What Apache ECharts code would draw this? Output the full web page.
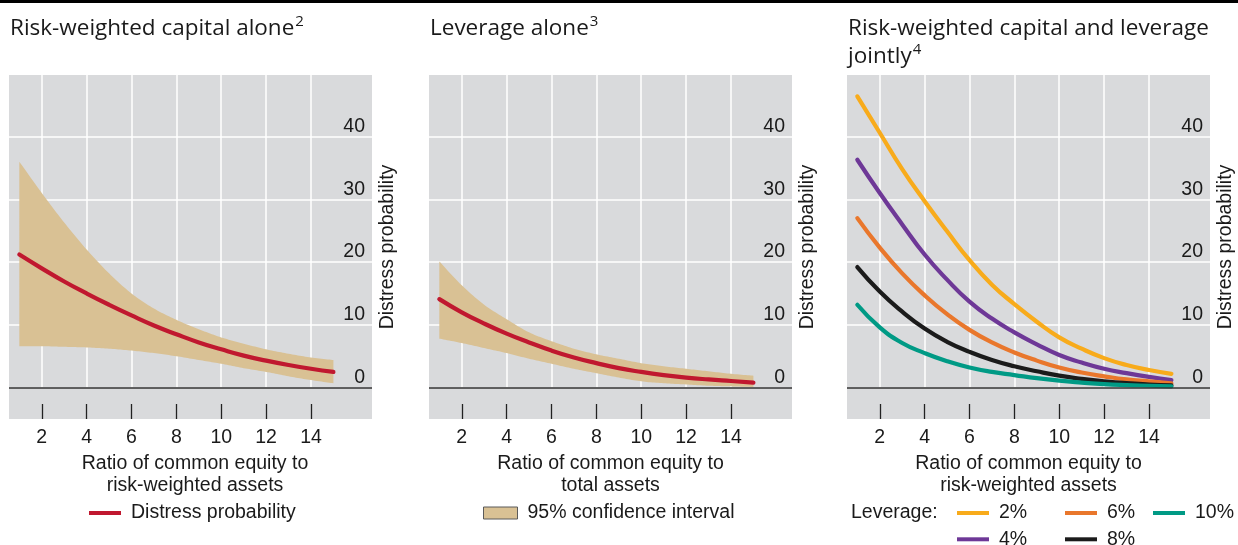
<!DOCTYPE html>
<html>
<head>
<meta charset="utf-8">
<script src="https://cdn.jsdelivr.net/npm/echarts@6/dist/echarts.min.js"></script>
<style>
  html, body { margin: 0; padding: 0; background: #ffffff; }
  #chart { width: 1238px; height: 545px; }
</style>
</head>
<body>
<div id="chart"></div>
<script>
// Capital ratio (per cent) at which each estimate is evaluated
const ratios = [1, 2, 3, 4, 5, 6, 7, 8, 9, 10, 11, 12, 13, 14, 15];
const xTicks = [2, 4, 6, 8, 10, 12, 14];
const yTicks = [0, 10, 20, 30, 40];

// Risk-weighted capital alone: distress probability and 95% band
const rwMid  = [21.2, 19.0, 16.9, 15.0, 13.2, 11.5, 9.9, 8.5, 7.2, 6.1, 5.1, 4.3, 3.6, 3.0, 2.5];
const rwLow  = [6.6, 6.6, 6.5, 6.4, 6.2, 5.9, 5.5, 5.0, 4.4, 3.8, 3.1, 2.5, 1.8, 1.2, 0.7];
const rwHigh = [36.0, 31.0, 26.3, 22.0, 18.2, 15.0, 12.6, 10.8, 9.3, 8.0, 7.0, 6.1, 5.4, 4.8, 4.4];

// Leverage alone: distress probability and 95% band
const levMid  = [14.1, 12.0, 10.2, 8.6, 7.2, 5.9, 4.8, 3.9, 3.1, 2.5, 2.0, 1.6, 1.3, 1.05, 0.8];
const levLow  = [7.8, 7.1, 6.3, 5.5, 4.6, 3.8, 3.0, 2.3, 1.6, 1.0, 0.7, 0.5, 0.3, 0.2, 0.1];
const levHigh = [20.1, 16.3, 13.2, 10.9, 8.8, 7.4, 6.2, 5.3, 4.6, 3.9, 3.4, 3.0, 2.6, 2.2, 1.9];

// Both ratios jointly, one curve per leverage ratio
const leverageNames = ['2%', '4%', '6%', '8%', '10%'];
const lev2  = [46.4, 40.6, 34.8, 29.7, 24.9, 20.3, 16.4, 13.3, 10.5, 8.0, 6.2, 4.7, 3.6, 2.8, 2.2];
const lev4  = [36.3, 31.0, 26.0, 21.2, 17.2, 13.7, 11.0, 8.8, 6.9, 5.2, 4.0, 3.0, 2.3, 1.7, 1.2];
const lev6  = [27.0, 22.3, 18.2, 14.7, 11.7, 9.2, 7.2, 5.6, 4.3, 3.2, 2.4, 1.8, 1.3, 1.0, 0.7];
const lev8  = [19.2, 15.3, 12.1, 9.4, 7.3, 5.7, 4.4, 3.4, 2.6, 1.9, 1.4, 1.0, 0.7, 0.5, 0.35];
const lev10 = [13.2, 9.6, 7.1, 5.5, 4.2, 3.2, 2.5, 2.0, 1.5, 1.1, 0.8, 0.55, 0.4, 0.3, 0.2];

const titles = [
  'Risk-weighted capital alone{s|2}',
  'Leverage alone{s|3}',
  'Risk-weighted capital and leverage\njointly{s|4}'
];
const xNames = [
  'Ratio of common equity to\nrisk-weighted assets',
  'Ratio of common equity to\ntotal assets',
  'Ratio of common equity to\nrisk-weighted assets'
];
const yName = 'Distress probability';

// Styling
const FONT = '"Liberation Sans", Arial, sans-serif';
const TITLE_FONT = '"Open Sans", "Noto Sans", sans-serif';
const TEXT = '#1a1a1a';
const PANEL = '#d9dadc';
const RED = '#c0182f';
const TAN = '#d9c194';
const LEV_COLORS = ['#f8ab1b', '#6e3897', '#e9772c', '#1b1b1b', '#009a85'];
const FS = 19.5;

const panelLeft = [9, 429, 847];
const GRID_TOP = 75, GRID_W = 363, GRID_H = 344;
const X_MIN = 0.54, X_MAX = 16.72, Y_MIN = -5, Y_MAX = 49.8;

const pairs = ys => ratios.map((x, i) => [x, ys[i]]);
const triples = (lo, hi) => ratios.map((x, i) => [x, lo[i], hi[i]]);

const grid = panelLeft.map(l => ({
  left: l, top: GRID_TOP, width: GRID_W, height: GRID_H,
  show: true, backgroundColor: PANEL, borderWidth: 0
}));

const xAxis = [];
const yAxis = [];
panelLeft.forEach((l, i) => {
  // vertical grid lines
  xAxis.push({
    gridIndex: i, type: 'value', min: X_MIN, max: X_MAX,
    axisLine: { show: false },
    axisTick: { show: false, customValues: xTicks },
    axisLabel: { show: false, customValues: xTicks },
    splitLine: { show: true, lineStyle: { color: '#ffffff', width: 1.5 } }
  });
  // ticks, labels and axis title, drawn above the panel fill
  xAxis.push({
    gridIndex: i, type: 'value', min: X_MIN, max: X_MAX, position: 'bottom', z: 10,
    axisLine: { show: false },
    axisTick: { show: true, inside: true, length: 15, customValues: xTicks,
                lineStyle: { color: '#222', width: 1.3 } },
    axisLabel: { customValues: xTicks, fontSize: FS, fontFamily: FONT, color: TEXT, margin: 9 },
    splitLine: { show: false },
    name: xNames[i], nameLocation: 'middle', nameGap: 32,
    nameTextStyle: { fontSize: FS, fontFamily: FONT, color: TEXT, lineHeight: 21.5,
                     padding: i === 0 ? [0, 0, 0, 9] : 0 }
  });
  yAxis.push({
    gridIndex: i, type: 'value', position: 'right', min: Y_MIN, max: Y_MAX,
    axisLine: { show: false },
    axisTick: { show: false, customValues: yTicks },
    axisLabel: { inside: true, customValues: yTicks, margin: 7, verticalAlign: 'bottom',
                 fontSize: FS, fontFamily: FONT, color: TEXT },
    splitLine: { show: true, lineStyle: { color: '#ffffff', width: 1.5 } },
    name: yName, nameLocation: 'middle', nameRotate: 90, nameGap: 6,
    nameTextStyle: { fontSize: FS, fontFamily: FONT, color: TEXT }
  });
});

// fill below zero and the zero line, shared by every panel
const belowZero = {
  silent: true, itemStyle: { color: PANEL, opacity: 1 },
  data: [[{ yAxis: Y_MIN }, { yAxis: 0 }]]
};
const zeroLine = {
  silent: true, symbol: 'none', label: { show: false },
  lineStyle: { color: '#333', type: 'solid', width: 1.5 },
  data: [{ yAxis: 0 }]
};

// Catmull-Rom sampling in pixel space so the band edges read as smooth curves
function smoothEdge(pts, steps) {
  const out = [];
  for (let i = 0; i < pts.length - 1; i++) {
    const p0 = pts[Math.max(i - 1, 0)], p1 = pts[i], p2 = pts[i + 1];
    const p3 = pts[Math.min(i + 2, pts.length - 1)];
    for (let s = 0; s < steps; s++) {
      const t = s / steps, t2 = t * t, t3 = t2 * t;
      const f = k => 0.5 * ((2 * p1[k]) + (-p0[k] + p2[k]) * t +
        (2 * p0[k] - 5 * p1[k] + 4 * p2[k] - p3[k]) * t2 +
        (-p0[k] + 3 * p1[k] - 3 * p2[k] + p3[k]) * t3);
      out.push([f(0), f(1)]);
    }
  }
  out.push(pts[pts.length - 1]);
  return out;
}

function renderBand(params, api) {
  if (params.dataIndexInside !== 0) return null;
  const n = params.dataInsideLength;
  const upper = [], lower = [];
  for (let j = 0; j < n; j++) {
    const x = api.value(0, j);
    lower.push(api.coord([x, api.value(1, j)]));
    upper.push(api.coord([x, api.value(2, j)]));
  }
  const pts = smoothEdge(upper, 12).concat(smoothEdge(lower, 12).reverse());
  return { type: 'polygon', shape: { points: pts }, style: { fill: TAN } };
}

function bandPanel(i, lo, hi, mid) {
  const axes = { xAxisIndex: i * 2, yAxisIndex: i };
  return [
    Object.assign({
      name: '95% confidence interval', type: 'custom', renderItem: renderBand,
      silent: true, itemStyle: { color: TAN },
      encode: { x: 0, y: [1, 2] }, data: triples(lo, hi)
    }, axes),
    Object.assign({
      name: 'Distress probability', type: 'line', smooth: 0.5, symbol: 'none',
      itemStyle: { color: RED }, lineStyle: { color: RED, width: 4.2, cap: 'round' },
      data: pairs(mid), markArea: belowZero, markLine: zeroLine
    }, axes)
  ];
}

const levSeries = [lev2, lev4, lev6, lev8, lev10].map((ys, k) => ({
  name: leverageNames[k], type: 'line', smooth: 0.5, symbol: 'none',
  xAxisIndex: 4, yAxisIndex: 2,
  itemStyle: { color: LEV_COLORS[k] }, lineStyle: { color: LEV_COLORS[k], width: 4.2, cap: 'round' },
  data: pairs(ys),
  markArea: k === 0 ? belowZero : undefined,
  markLine: k === 0 ? zeroLine : undefined
}));

const series = [].concat(
  bandPanel(0, rwLow, rwHigh, rwMid),
  bandPanel(1, levLow, levHigh, levMid),
  levSeries
);

const LEGEND_TOP = 503, LEGEND_ROW = 26.3;
const legendText = { fontSize: FS, fontFamily: FONT, color: TEXT, padding: [0, 0, 0, 5] };
const lineLegend = (name, left, row) => ({
  data: [name], left: left, top: LEGEND_TOP + row * LEGEND_ROW, padding: 0,
  icon: 'rect', itemWidth: 32, itemHeight: 4, selectedMode: false, textStyle: legendText
});
// leverage keys set out in columns: 2%/4%, 6%/8%, 10%
const leverageKeyPos = [[957, 0], [957, 1], [1065, 0], [1065, 1], [1153, 0]];

const option = {
  animation: false,
  backgroundColor: '#ffffff',
  title: titles.map((t, i) => ({
    text: t, left: panelLeft[i] + 1, top: 14.5, padding: 0,
    textStyle: {
      fontFamily: TITLE_FONT, fontSize: 22.5, fontWeight: 'normal', color: TEXT, lineHeight: 28,
      rich: { s: { fontFamily: TITLE_FONT, fontSize: 15, verticalAlign: 'top', lineHeight: 20, padding: [0, 0, 0, 1] } }
    }
  })),
  grid: grid,
  xAxis: xAxis,
  yAxis: yAxis,
  legend: [
    lineLegend('Distress probability', 89, 0),
    {
      data: ['95% confidence interval'], left: 483, top: LEGEND_TOP, padding: 0,
      icon: 'rect', itemWidth: 34, itemHeight: 12, selectedMode: false,
      itemStyle: { borderColor: '#5a5a5a', borderWidth: 1 },
      textStyle: legendText
    }
  ].concat(leverageNames.map((nm, k) => lineLegend(nm, leverageKeyPos[k][0], leverageKeyPos[k][1]))),
  graphic: [
    { type: 'rect', left: 0, top: 0, shape: { width: 1238, height: 3 }, style: { fill: '#000' } },
    { type: 'text', left: 851, top: LEGEND_TOP,
      style: { text: 'Leverage:', font: FS + 'px ' + FONT, fill: TEXT } }
  ],
  series: series
};

const chart = echarts.init(document.getElementById('chart'), null, { renderer: 'canvas' });
chart.setOption(option);
</script>
</body>
</html>
